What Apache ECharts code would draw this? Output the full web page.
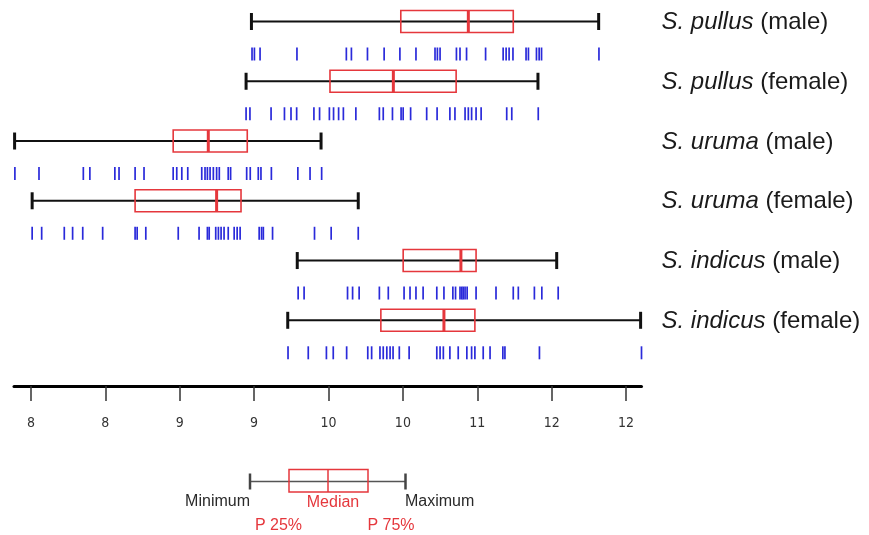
<!DOCTYPE html>
<html>
<head>
<meta charset="utf-8">
<script src="https://cdn.jsdelivr.net/npm/echarts@6/dist/echarts.min.js"></script>
<style>
  html, body { margin: 0; padding: 0; background: #ffffff; }
  #chart { width: 869px; height: 535px; }
</style>
</head>
<body>
<div id="chart"></div>
<script>
// Values are on a log10 scale of the measured trait (axis is logarithmic).
const speciesNames = ['S. pullus', 'S. pullus', 'S. uruma', 'S. uruma', 'S. indicus', 'S. indicus'];
const sexNames = ['male', 'female', 'male', 'female', 'male', 'female'];

const tickValues = [0.89, 0.915, 0.94, 0.965, 0.99, 1.015, 1.04, 1.065, 1.09];
const tickLabels = ['8', '8', '9', '9', '10', '10', '11', '12', '12'];

const minVals    = [0.9641, 0.9623, 0.8845, 0.8904, 0.9795, 0.9763];
const q1Vals     = [1.0143, 0.9905, 0.9378, 0.9250, 1.0151, 1.0076];
const medianVals = [1.0370, 1.0118, 0.9496, 0.9524, 1.0345, 1.0288];
const q3Vals     = [1.0521, 1.0329, 0.9627, 0.9606, 1.0396, 1.0392];
const maxVals    = [1.0808, 1.0604, 0.9875, 1.0000, 1.0667, 1.0949];

const obsPullusMale = [0.9643, 0.9651, 0.9670, 0.9794, 0.9960, 0.9977, 1.0031, 1.0087, 1.0140, 1.0194,
  1.0258, 1.0266, 1.0275, 1.0330, 1.0342, 1.0364, 1.0428, 1.0487, 1.0497, 1.0507, 1.0520, 1.0564,
  1.0572, 1.0599, 1.0608, 1.0616, 1.0809];
const obsPullusFemale = [0.9623, 0.9636, 0.9707, 0.9752, 0.9774, 0.9793, 0.9851, 0.9870, 0.9903, 0.9917,
  0.9934, 0.9950, 0.9992, 1.0071, 1.0084, 1.0115, 1.0144, 1.0151, 1.0176, 1.0230, 1.0265, 1.0308,
  1.0325, 1.0359, 1.0370, 1.0381, 1.0396, 1.0413, 1.0499, 1.0516, 1.0605];
const obsUrumaMale = [0.8846, 0.8927, 0.9076, 0.9098, 0.9182, 0.9196, 0.9250, 0.9280, 0.9378, 0.9390,
  0.9407, 0.9427, 0.9474, 0.9485, 0.9493, 0.9502, 0.9513, 0.9524, 0.9533, 0.9563, 0.9571, 0.9625,
  0.9637, 0.9664, 0.9673, 0.9708, 0.9797, 0.9838, 0.9877];
const obsUrumaFemale = [0.8904, 0.8936, 0.9012, 0.9040, 0.9074, 0.9141, 0.9250, 0.9257, 0.9286, 0.9395,
  0.9465, 0.9493, 0.9499, 0.9521, 0.9530, 0.9539, 0.9549, 0.9563, 0.9583, 0.9593, 0.9603, 0.9667,
  0.9675, 0.9681, 0.9712, 0.9853, 0.9909, 1.0000];
const obsIndicusMale = [0.9798, 0.9818, 0.9964, 0.9981, 1.0003, 1.0071, 1.0101, 1.0154, 1.0174, 1.0194,
  1.0218, 1.0264, 1.0288, 1.0318, 1.0327, 1.0342, 1.0348, 1.0353, 1.0359, 1.0366, 1.0396, 1.0463,
  1.0521, 1.0538, 1.0592, 1.0617, 1.0672];
const obsIndicusFemale = [0.9764, 0.9832, 0.9893, 0.9916, 0.9961, 1.0032, 1.0045, 1.0073, 1.0084, 1.0096,
  1.0107, 1.0117, 1.0138, 1.0171, 1.0264, 1.0275, 1.0286, 1.0308, 1.0336, 1.0365, 1.0381, 1.0392,
  1.0420, 1.0443, 1.0486, 1.0493, 1.0609, 1.0952];

const observations = [obsPullusMale, obsPullusFemale, obsUrumaMale, obsUrumaFemale, obsIndicusMale, obsIndicusFemale];

const RED = '#e5373c';
const BLUE = '#2a2ada';
const BLACK = '#111111';

const boxData = speciesNames.map((s, i) => [minVals[i], q1Vals[i], medianVals[i], q3Vals[i], maxVals[i], i]);
const rugData = [];
observations.forEach((arr, row) => arr.forEach(v => rugData.push([v, row])));

const chart = echarts.init(document.getElementById('chart'), null, { renderer: 'canvas' });

const option = {
  backgroundColor: '#ffffff',
  animation: false,
  grid: { left: 14, right: 227.5, top: 0, bottom: 149, containLabel: false, outerBoundsMode: 'none' },
  xAxis: {
    type: 'value',
    min: 0.8843,
    max: 1.0952,
    splitLine: { show: false },
    axisLine: { show: true, onZero: false, lineStyle: { color: '#000000', width: 3 } },
    axisTick: { show: true, customValues: tickValues, length: 15, lineStyle: { color: '#333333', width: 1.5 } },
    axisLabel: {
      show: true,
      customValues: tickValues,
      margin: 30,
      fontSize: 14,
      color: '#333333',
      fontFamily: "'Liberation Sans Narrow', 'DejaVu Sans Condensed', 'Liberation Sans', sans-serif",
      formatter: function (v) {
        const idx = tickValues.findIndex(t => Math.abs(t - v) < 1e-6);
        return idx >= 0 ? tickLabels[idx] : '';
      }
    }
  },
  yAxis: {
    type: 'value',
    inverse: true,
    min: -0.3598,
    max: 6.0994,
    show: false,
    splitLine: { show: false }
  },
  series: [
    {
      type: 'custom',
      clip: false,
      encode: { x: [0, 1, 2, 3, 4], y: 5 },
      data: boxData,
      renderItem: function (params, api) {
        const row = api.value(5);
        const pMin = api.coord([api.value(0), row]);
        const pQ1 = api.coord([api.value(1), row]);
        const pMed = api.coord([api.value(2), row]);
        const pQ3 = api.coord([api.value(3), row]);
        const pMax = api.coord([api.value(4), row]);
        const y = pMin[1];
        const bh = 22, ch = 8.5;
        const cs = params.coordSys;
        const labelX = cs.x + cs.width + 20;
        return {
          type: 'group',
          children: [
            { type: 'line', shape: { x1: pMin[0], y1: y, x2: pMax[0], y2: y }, style: { stroke: BLACK, lineWidth: 2 } },
            { type: 'line', shape: { x1: pMin[0], y1: y - ch, x2: pMin[0], y2: y + ch }, style: { stroke: BLACK, lineWidth: 3 } },
            { type: 'line', shape: { x1: pMax[0], y1: y - ch, x2: pMax[0], y2: y + ch }, style: { stroke: BLACK, lineWidth: 3 } },
            { type: 'rect', shape: { x: pQ1[0], y: y - bh / 2, width: pQ3[0] - pQ1[0], height: bh }, style: { stroke: RED, fill: null, lineWidth: 1.6 } },
            { type: 'line', shape: { x1: pMed[0], y1: y - bh / 2, x2: pMed[0], y2: y + bh / 2 }, style: { stroke: RED, lineWidth: 3 } },
            {
              type: 'text',
              x: labelX,
              y: y + 1,
              style: {
                text: '{i|' + speciesNames[row] + '} (' + sexNames[row] + ')',
                fill: '#1a1a1a',
                fontSize: 24,
                fontFamily: "'Liberation Sans', Arial, sans-serif",
                align: 'left',
                verticalAlign: 'middle',
                rich: {
                  i: { fontStyle: 'italic', fontSize: 24, fontFamily: "'Liberation Sans', Arial, sans-serif", fill: '#1a1a1a' }
                }
              }
            }
          ]
        };
      }
    },
    {
      type: 'custom',
      clip: false,
      encode: { x: 0, y: 1 },
      data: rugData,
      renderItem: function (params, api) {
        const c = api.coord([api.value(0), api.value(1)]);
        return {
          type: 'line',
          shape: { x1: c[0], y1: c[1] + 26, x2: c[0], y2: c[1] + 39 },
          style: { stroke: BLUE, lineWidth: 1.7 }
        };
      }
    }
  ],
  graphic: [
    { type: 'line', shape: { x1: 250, y1: 481.5, x2: 405.5, y2: 481.5 }, style: { stroke: '#555555', lineWidth: 1.5 } },
    { type: 'line', shape: { x1: 250, y1: 473.5, x2: 250, y2: 489.5 }, style: { stroke: '#444444', lineWidth: 2.5 } },
    { type: 'line', shape: { x1: 405.5, y1: 473.5, x2: 405.5, y2: 489.5 }, style: { stroke: '#444444', lineWidth: 2.5 } },
    { type: 'rect', shape: { x: 289, y: 469.5, width: 79, height: 22.5 }, style: { stroke: RED, fill: null, lineWidth: 1.5 } },
    { type: 'line', shape: { x1: 328, y1: 469.5, x2: 328, y2: 492 }, style: { stroke: RED, lineWidth: 1.5 } },
    { type: 'text', x: 250, y: 502, style: { text: 'Minimum', fill: '#2a2a2a', fontSize: 16, fontFamily: "'Liberation Sans', Arial, sans-serif", align: 'right', verticalAlign: 'middle' } },
    { type: 'text', x: 405, y: 502, style: { text: 'Maximum', fill: '#2a2a2a', fontSize: 16, fontFamily: "'Liberation Sans', Arial, sans-serif", align: 'left', verticalAlign: 'middle' } },
    { type: 'text', x: 333, y: 503, style: { text: 'Median', fill: RED, fontSize: 16, fontFamily: "'Liberation Sans', Arial, sans-serif", align: 'center', verticalAlign: 'middle' } },
    { type: 'text', x: 278.5, y: 526, style: { text: 'P 25%', fill: RED, fontSize: 16, fontFamily: "'Liberation Sans', Arial, sans-serif", align: 'center', verticalAlign: 'middle' } },
    { type: 'text', x: 391, y: 526, style: { text: 'P 75%', fill: RED, fontSize: 16, fontFamily: "'Liberation Sans', Arial, sans-serif", align: 'center', verticalAlign: 'middle' } }
  ]
};

chart.setOption(option);
</script>
</body>
</html>
